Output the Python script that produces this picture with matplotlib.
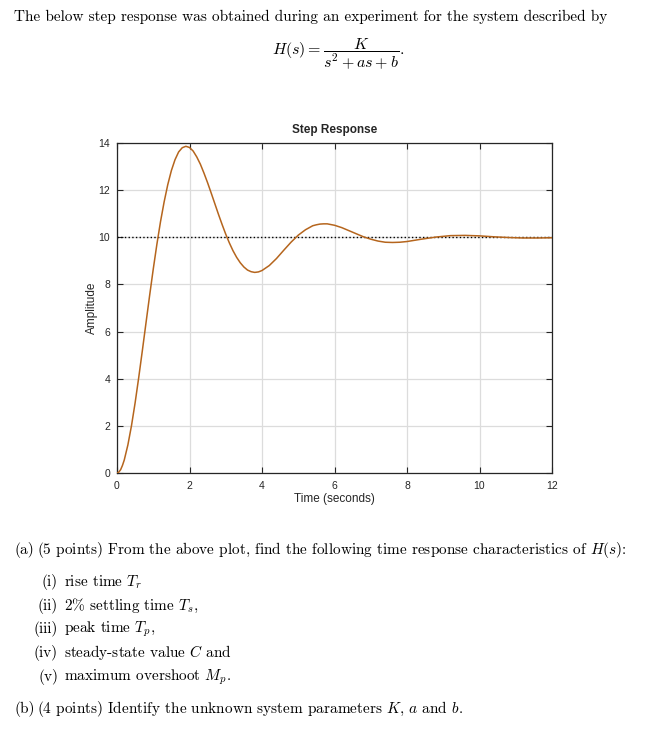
import matplotlib
matplotlib.use("Agg")
import matplotlib.pyplot as plt

plt.rcParams['mathtext.fontset'] = 'cm'

# step response
time_s = [0.0, 0.05, 0.1, 0.15, 0.2, 0.3, 0.4, 0.5, 0.6, 0.7, 0.8, 0.9, 1.0,
          1.1, 1.2, 1.3, 1.4, 1.5, 1.6, 1.7, 1.8, 1.9, 2.0, 2.1, 2.2, 2.3, 2.4,
          2.5, 2.6, 2.7, 2.8, 2.9, 3.0, 3.1, 3.2, 3.3, 3.4, 3.5, 3.6, 3.7, 3.8,
          3.9, 4.0, 4.2, 4.4, 4.6, 4.8, 5.0, 5.2, 5.4, 5.5, 5.6, 5.7, 5.8, 6.0,
          6.2, 6.4, 6.6, 6.8, 7.0, 7.2, 7.4, 7.6, 7.8, 8.0, 8.4, 8.8, 9.2, 9.6,
          10.0, 10.4, 10.8, 11.2, 11.6, 12.0]
amplitude = [0.00, 0.04, 0.14, 0.32, 0.55, 1.19, 2.01, 2.98, 4.06, 5.20, 6.37,
             7.53, 8.65, 9.70, 10.66, 11.50, 12.23, 12.83, 13.29, 13.62, 13.80,
             13.86, 13.81, 13.66, 13.41, 13.10, 12.72, 12.31, 11.87, 11.42, 10.97,
             10.54, 10.13, 9.76, 9.43, 9.15, 8.92, 8.74, 8.61, 8.54, 8.51, 8.53,
             8.59, 8.80, 9.10, 9.45, 9.79, 10.09, 10.32, 10.49, 10.53, 10.56,
             10.57, 10.57, 10.51, 10.41, 10.28, 10.15, 10.02, 9.92, 9.84, 9.79,
             9.78, 9.79, 9.82, 9.92, 10.01, 10.07, 10.08, 10.06, 10.02, 9.99,
             9.97, 9.97, 9.98]
steady_state = 10.0
x_ticks = [0, 2, 4, 6, 8, 10, 12]
y_ticks = [0, 2, 4, 6, 8, 10, 12, 14]

fig = plt.figure(figsize=(6.68, 7.32), dpi=100)
serif = 'cmr10'
sans = 'Liberation Sans'
dark = '#262626'

# header text
fig.text(14 / 668, 1 - 17 / 732,
         "The below step response was obtained during an experiment for the system described by",
         fontsize=11, family=serif, va='center', ha='left')
fig.text(338 / 668, 1 - 54 / 732, r'$H(s) = \dfrac{K}{s^2 + as + b}.$',
         fontsize=11.5, va='center', ha='center')

ax = fig.add_axes([117 / 668, 1 - 473 / 732, 435 / 668, 330 / 732])
ax.plot(time_s, amplitude, color='#b5651d', lw=1.1, zorder=3)
ax.axhline(steady_state, color='black', ls=':', lw=1.0, zorder=2)

ax.set_xlim(0, 12)
ax.set_ylim(0, 14)
ax.set_xticks(x_ticks)
ax.set_yticks(y_ticks)
ax.grid(True, color='#dcdcdc', lw=0.9)
ax.set_axisbelow(True)
ax.tick_params(direction='in', top=True, right=True, length=4, width=0.8,
               labelsize=7.5, colors=dark)
ax.tick_params(axis='x', pad=6)
ax.tick_params(axis='y', pad=5)
for lbl in ax.get_xticklabels() + ax.get_yticklabels():
    lbl.set_family(sans)
for sp in ax.spines.values():
    sp.set_color(dark)
    sp.set_linewidth(0.9)

ax.set_title('Step Response', fontsize=8.5, fontweight='bold',
             family=sans, color=dark, pad=7)
ax.set_xlabel('Time (seconds)', fontsize=8.5, family=sans, color=dark,
              labelpad=1)
ax.set_ylabel('Amplitude', fontsize=8.5, family=sans, color=dark,
              labelpad=0)

# questions below the plot
fs = 11
fig.text(14 / 668, 1 - 550 / 732, '(a)', fontsize=fs, family=serif, va='center')
fig.text(37 / 668, 1 - 550 / 732,
         r'(5 points) From the above plot, find the following time response characteristics of $H(s)$:',
         fontsize=fs, family=serif, va='center')

items = [r'rise time $T_r$', r'2% settling time $T_s$,', r'peak time $T_p$,',
         r'steady-state value $C$ and', r'maximum overshoot $M_p$.']
labels = ['(i)', '(ii)', '(iii)', '(iv)', '(v)']
rows_y = [582, 606, 629, 653, 677]
for lab, item, yy in zip(labels, items, rows_y):
    fig.text(58 / 668, 1 - yy / 732, lab, fontsize=fs, family=serif,
             va='center', ha='right')
    fig.text(64 / 668, 1 - yy / 732, item, fontsize=fs, family=serif,
             va='center', ha='left')

fig.text(14 / 668, 1 - 709 / 732, '(b)', fontsize=fs, family=serif, va='center')
fig.text(37 / 668, 1 - 709 / 732,
         r'(4 points) Identify the unknown system parameters $K$, $a$ and $b$.',
         fontsize=fs, family=serif, va='center')

fig.savefig('out.png', dpi=100)
